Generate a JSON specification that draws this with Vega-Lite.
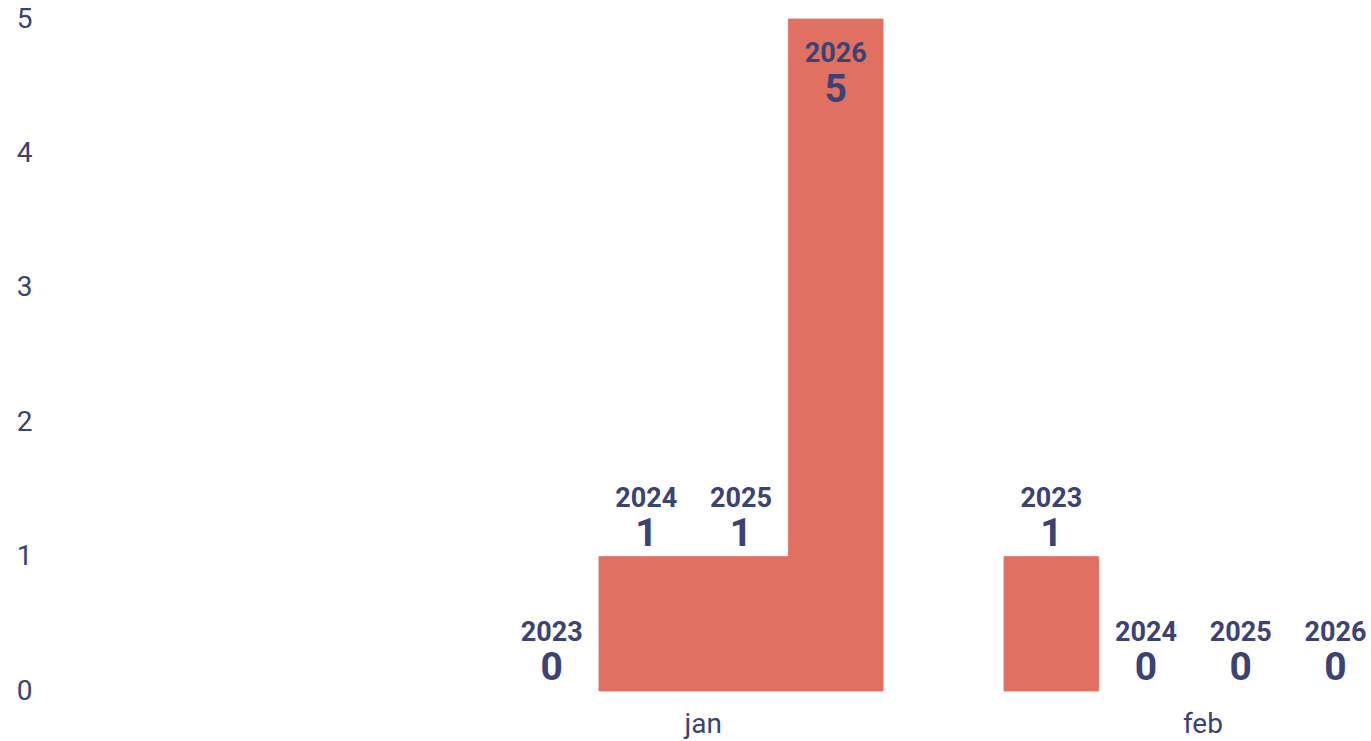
{
  "$schema": "https://vega.github.io/schema/vega-lite/v6.json",
  "autosize": {"type": "none"},
  "padding": {"left": 45, "top": 19, "right": 0, "bottom": 50},
  "width": 1326,
  "height": 672,
  "background": "white",
  "config": {"view": {"stroke": null}, "font": "Roboto"},
  "data": {"values": [
    {"month": "jan", "year": "2023", "value": 0},
    {"month": "jan", "year": "2024", "value": 1},
    {"month": "jan", "year": "2025", "value": 1},
    {"month": "jan", "year": "2026", "value": 5},
    {"month": "feb", "year": "2023", "value": 1},
    {"month": "feb", "year": "2024", "value": 0},
    {"month": "feb", "year": "2025", "value": 0},
    {"month": "feb", "year": "2026", "value": 0}
  ]},
  "transform": [{"joinaggregate": [{"op": "max", "field": "value", "as": "maxv"}]}],
  "encoding": {
    "x": {"field": "month", "type": "nominal", "sort": ["jan", "feb"],
      "scale": {"domain": ["jan", "feb"], "range": [459.3, 1337.8], "paddingInner": 0.242, "paddingOuter": 0},
      "axis": {"title": null, "domain": false, "ticks": false, "tickSize": 0, "labelPadding": 19, "labelOffset": 9.5, "labelAngle": 0,
        "labelFontSize": 28, "labelFontWeight": "normal", "labelColor": "#3b4274", "labelFont": "Roboto"}},
    "xOffset": {"field": "year", "type": "nominal", "scale": {"domain": ["2023", "2024", "2025", "2026"], "paddingInner": 0, "paddingOuter": 0}},
    "y": {"field": "value", "type": "quantitative",
      "scale": {"domain": [0, 5], "nice": false},
      "axis": {"title": null, "domain": false, "ticks": false, "tickSize": 0, "grid": false, "values": [0, 1, 2, 3, 4, 5],
        "labelPadding": 13, "labelFontSize": 28, "labelFontWeight": "normal", "labelColor": "#3b4274", "labelFont": "Roboto", "labelBaseline": "middle"}}
  },
  "layer": [
    {"transform": [{"filter": "datum.value > 0"}],
     "mark": {"type": "bar", "color": "#e07062", "stroke": "#e07062", "strokeWidth": 0.8, "cornerRadius": 0}},
    {"transform": [{"filter": "datum.value < datum.maxv"}],
     "mark": {"type": "text", "font": "Roboto", "fontWeight": "bold", "fontSize": 27, "color": "#3b4274", "baseline": "alphabetic", "dy": -50},
     "encoding": {"text": {"field": "year"}}},
    {"transform": [{"filter": "datum.value < datum.maxv"}],
     "mark": {"type": "text", "font": "Roboto", "fontWeight": "bold", "fontSize": 39, "color": "#3b4274", "baseline": "alphabetic", "dy": -11},
     "encoding": {"text": {"field": "value", "type": "quantitative"}}},
    {"transform": [{"filter": "datum.value == datum.maxv"}],
     "mark": {"type": "text", "font": "Roboto", "fontWeight": "bold", "fontSize": 27, "color": "#3b4274", "baseline": "alphabetic", "dy": 43},
     "encoding": {"text": {"field": "year"}}},
    {"transform": [{"filter": "datum.value == datum.maxv"}],
     "mark": {"type": "text", "font": "Roboto", "fontWeight": "bold", "fontSize": 39, "color": "#3b4274", "baseline": "alphabetic", "dy": 83},
     "encoding": {"text": {"field": "value", "type": "quantitative"}}}
  ]
}
